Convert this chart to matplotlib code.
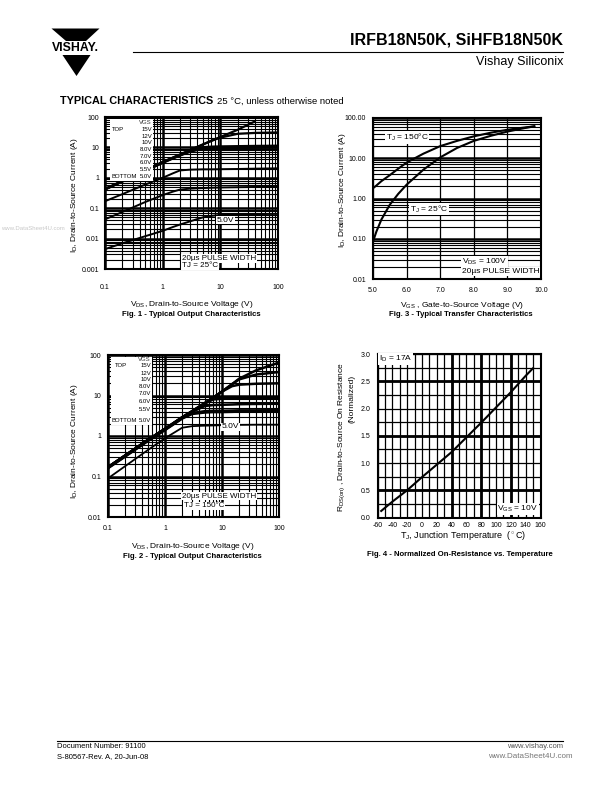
import numpy as np
import matplotlib
matplotlib.use('Agg')
import matplotlib.pyplot as plt
from matplotlib.patches import Polygon, Rectangle
from matplotlib.lines import Line2D
from matplotlib.ticker import LogLocator, NullFormatter, MultipleLocator

plt.rcParams['font.family'] = ['Liberation Sans', 'DejaVu Sans']
plt.rcParams['mathtext.fontset'] = 'custom'
plt.rcParams['mathtext.rm'] = 'Liberation Sans'
plt.rcParams['mathtext.it'] = 'Liberation Sans:italic'
plt.rcParams['mathtext.bf'] = 'Liberation Sans:bold'

# ---------------- data ----------------
vgs_labels = ['15V', '12V', '10V', '8.0V', '7.0V', '6.0V', '5.5V', '5.0V']

# Fig. 1 : Tj = 25 C
fig1_vds = [0.1, 0.2, 0.5, 1, 1.5, 2, 3, 5, 7, 10, 20, 40, 100]
fig1_15v = [0.43, 0.78, 1.75, 3.3, 4.6, 5.8, 8.2, 12.5, 16.5, 22, 38, 72, np.nan]
fig1_12v = [0.43, 0.78, 1.75, 3.3, 4.6, 5.8, 8.2, 12.5, 16.5, 21, 28, 30, 31]
fig1_10v = [0.42, 0.77, 1.72, 3.2, 4.5, 5.6, 7.8, 10.2, 10.6, 10.8, 11, 11.2, 11.4]
fig1_8v = [0.42, 0.76, 1.7, 3.15, 4.4, 5.5, 7.5, 9.6, 9.9, 10, 10.1, 10.2, 10.3]
fig1_7v = [0.41, 0.75, 1.68, 3.1, 4.3, 5.4, 7.2, 9.1, 9.4, 9.5, 9.6, 9.7, 9.8]
fig1_6v = [0.17, 0.29, 0.6, 1.0, 1.4, 1.75, 1.85, 1.9, 1.9, 1.92, 1.95, 2.0, 2.05]
fig1_5p5v = [0.043, 0.075, 0.16, 0.27, 0.35, 0.41, 0.44, 0.46, 0.47, 0.48, 0.49, 0.5, 0.52]
fig1_5v = [0.0045, 0.007, 0.012, 0.018, 0.024, 0.029, 0.037, 0.05, 0.056, 0.06, 0.062, 0.064, 0.065]

# Fig. 2 : Tj = 150 C
fig2_vds = [0.1, 0.2, 0.5, 1, 2, 3, 5, 7, 10, 15, 20, 40, 100]
fig2_15v = [0.17, 0.33, 0.8, 1.5, 2.9, 4.1, 6.5, 8.8, 12.5, 19, 26, 42, 65]
fig2_12v = [0.17, 0.33, 0.8, 1.5, 2.9, 4.1, 6.5, 8.8, 12.5, 19, 25, 33, 38]
fig2_10v = [0.17, 0.33, 0.8, 1.5, 2.9, 4.1, 6.5, 8.8, 12.5, 17, 18.5, 19.5, 20]
fig2_8v = [0.17, 0.33, 0.79, 1.48, 2.85, 4.0, 6.3, 8.0, 8.3, 8.4, 8.5, 8.6, 8.7]
fig2_7v = [0.165, 0.32, 0.78, 1.46, 2.8, 3.95, 5.5, 5.8, 5.9, 6.0, 6.1, 6.2, 6.3]
fig2_6v = [0.165, 0.32, 0.77, 1.44, 2.75, 3.7, 4.1, 4.2, 4.2, 4.25, 4.3, 4.3, 4.35]
fig2_5p5v = [0.16, 0.31, 0.75, 1.4, 2.7, 3.5, 3.8, 3.9, 3.9, 3.95, 4.0, 4.0, 4.05]
fig2_5v = [0.09, 0.18, 0.45, 0.88, 1.6, 1.75, 1.8, 1.82, 1.85, 1.87, 1.88, 1.9, 1.9]

# Fig. 3 : transfer characteristics
fig3_vgs = [5.0, 5.1, 5.25, 5.5, 5.75, 6.0, 6.5, 7.0, 7.5, 8.0, 8.5, 9.0, 9.5, 9.8]
fig3_id_150c = [1.8, 2.1, 2.7, 3.8, 5.5, 7.8, 13, 20, 27, 35, 43, 51, 58, 62]
fig3_id_25c = [0.085, 0.15, 0.3, 0.7, 1.3, 2.2, 5.2, 10.5, 18, 27, 36, 46, 56, 62]

# Fig. 4 : normalized on-resistance
fig4_tj = [-55, -40, -20, 0, 20, 40, 60, 80, 100, 120, 140, 150]
fig4_rds = [0.12, 0.29, 0.50, 0.74, 0.97, 1.20, 1.47, 1.74, 2.02, 2.30, 2.60, 2.74]

# tick labels
fig1_yticks = [0.001, 0.01, 0.1, 1, 10, 100]
fig1_yticklabels = ['0.001', '0.01', '0.1', '1', '10', '100']
fig12_xticks = [0.1, 1, 10, 100]
fig12_xticklabels = ['0.1', '1', '10', '100']
fig2_yticks = [0.01, 0.1, 1, 10, 100]
fig2_yticklabels = ['0.01', '0.1', '1', '10', '100']
fig3_yticks = [0.01, 0.1, 1, 10, 100]
fig3_yticklabels = ['0.01', '0.10', '1.00', '10.00', '100.00']
fig3_xticks = [5.0, 6.0, 7.0, 8.0, 9.0, 10.0]
fig3_xticklabels = ['5.0', '6.0', '7.0', '8.0', '9.0', '10.0']
fig4_xticks = [-60, -40, -20, 0, 20, 40, 60, 80, 100, 120, 140, 160]
fig4_yticks = [0.0, 0.5, 1.0, 1.5, 2.0, 2.5, 3.0]

# ---------------- layout helpers ----------------
W, H = 612, 792
fig = plt.figure(figsize=(6.12, 7.92), dpi=100)


def ax_at(x0, y0, x1, y1):
    return fig.add_axes([x0 / W, 1 - y1 / H, (x1 - x0) / W, (y1 - y0) / H])


def ftext(x, y, s, **kw):
    kw.setdefault('va', 'center')
    return fig.text(x / W, 1 - y / H, s, **kw)


def P(pts):
    return [(x / W, 1 - y / H) for x, y in pts]


def frect(x0, y0, x1, y1, **kw):
    r = Rectangle((x0 / W, 1 - y1 / H), (x1 - x0) / W, (y1 - y0) / H,
                  transform=fig.transFigure, **kw)
    fig.add_artist(r)
    return r


WB = dict(fc='white', ec='none', pad=0.4)
TICK_FS = 5
LAB_FS = 6
CAP_FS = 5.6


def style_frame(ax):
    for s in ax.spines.values():
        s.set_linewidth(1.5)
        s.set_color('black')
    ax.tick_params(which='both', length=0, labelsize=TICK_FS)
    ax.set_axisbelow(True)


def loglog_grid(ax):
    ax.set_xscale('log')
    ax.set_yscale('log')
    for axis in (ax.xaxis, ax.yaxis):
        axis.set_minor_locator(LogLocator(base=10, subs=np.arange(2, 10), numticks=30))
        axis.set_minor_formatter(NullFormatter())
    ax.grid(which='major', color='black', lw=1.8)
    ax.grid(which='minor', color='black', lw=0.8)


# ---------------- header ----------------
fig.add_artist(Polygon(P([(51.5, 28.5), (99.5, 28.5), (86, 41), (66, 41)]),
                       closed=True, fc='black', ec='none', transform=fig.transFigure))
fig.add_artist(Polygon(P([(62.5, 55), (90.5, 55), (76.5, 76)]),
                       closed=True, fc='black', ec='none', transform=fig.transFigure))
ftext(75.5, 48, 'VISHAY.', ha='center', fontsize=8.8, fontweight='bold')
ftext(563, 40, 'IRFB18N50K, SiHFB18N50K', ha='right', fontsize=11.5, fontweight='bold')
fig.add_artist(Line2D([133 / W, 563 / W], [1 - 51.5 / H, 1 - 51.5 / H], color='black',
                      lw=0.8, transform=fig.transFigure))
ftext(563, 61.5, 'Vishay Siliconix', ha='right', fontsize=9)
ftext(60, 101, 'TYPICAL CHARACTERISTICS', ha='left', fontsize=7.8, fontweight='bold')
ftext(217, 101, '25 °C, unless otherwise noted', ha='left', fontsize=6.8)

# watermark on left edge
ftext(1, 229, 'www.DataSheet4U.com', ha='left', fontsize=4.3, color='#c8c8c8')

# ---------------- Fig. 1 ----------------
ax1 = ax_at(105, 117, 278, 269)
loglog_grid(ax1)
style_frame(ax1)
for cur, lw in zip([fig1_15v, fig1_12v, fig1_10v, fig1_8v, fig1_7v, fig1_6v, fig1_5p5v, fig1_5v],
                   [1.6, 1.6, 1.6, 1.6, 1.6, 1.4, 1.4, 1.4]):
    ax1.plot(fig1_vds, cur, color='black', lw=lw, solid_capstyle='butt')
ax1.set_xlim(0.1, 100)
ax1.set_ylim(0.001, 100)
ax1.set_xticks(fig12_xticks, fig12_xticklabels)
ax1.set_yticks(fig1_yticks, fig1_yticklabels)
ax1.tick_params(axis='x', pad=11)
ax1.tick_params(axis='y', pad=4)

frect(110, 119, 153, 181, fc='white', ec='none', zorder=2)
leg1_y = [129.5, 136, 142, 149.5, 156.5, 163, 169.5, 176.5]
ftext(152, 122.5, 'VGS', ha='right', fontsize=4.3, color='#333333')
for lab, yy in zip(vgs_labels, leg1_y):
    ftext(152, yy, lab, ha='right', fontsize=4.3)
ftext(111.5, leg1_y[0], 'TOP', ha='left', fontsize=4.3)
ftext(111, leg1_y[-1], 'BOTTOM', ha='left', fontsize=4.3)
ftext(217, 220, '5.0V', ha='left', fontsize=6, bbox=WB)
ftext(182, 258.5, '20µs PULSE WIDTH', ha='left', fontsize=5.8, bbox=WB)
ftext(182, 265.5, 'TJ = 25°C', ha='left', fontsize=5.8, bbox=WB)

ftext(191.5, 304, r'V$_\mathregular{DS}$, Drain-to-Source Voltage (V)', ha='center', fontsize=LAB_FS)
ftext(191.5, 315, 'Fig. 1 - Typical Output Characteristics', ha='center', fontsize=CAP_FS,
      fontweight='bold')
ftext(75, 195, r'I$_\mathregular{D}$, Drain-to-Source Current (A)', ha='center', rotation=90,
      fontsize=LAB_FS)

# ---------------- Fig. 3 ----------------
ax3 = ax_at(373, 118, 541, 279)
ax3.set_yscale('log')
ax3.yaxis.set_minor_locator(LogLocator(base=10, subs=np.arange(2, 10), numticks=30))
ax3.yaxis.set_minor_formatter(NullFormatter())
ax3.grid(axis='y', which='major', color='black', lw=1.8)
ax3.grid(axis='y', which='minor', color='black', lw=0.8)
ax3.grid(axis='x', which='major', color='black', lw=0.9)
style_frame(ax3)
ax3.plot(fig3_vgs, fig3_id_150c, color='black', lw=1.5)
ax3.plot(fig3_vgs, fig3_id_25c, color='black', lw=1.5)
ax3.set_xlim(5.0, 10.0)
ax3.set_ylim(0.01, 100)
ax3.set_xticks(fig3_xticks, fig3_xticklabels)
ax3.set_yticks(fig3_yticks, fig3_yticklabels)
ax3.tick_params(axis='x', pad=6)
ax3.tick_params(axis='y', pad=5)

ftext(386, 137.5, r'T$_\mathregular{J}$ = 150°C', ha='left', fontsize=6, bbox=WB)
ftext(410, 209, r'T$_\mathregular{J}$ = 25°C', ha='left', fontsize=6, bbox=WB)
ftext(462, 262, r'V$_\mathregular{DS}$ = 100V', ha='left', fontsize=6, bbox=WB)
ftext(462, 271.5, '20µs PULSE WIDTH', ha='left', fontsize=6, bbox=WB)

ftext(462, 305, r'V$_\mathregular{GS}$ , Gate-to-Source Voltage (V)', ha='center', fontsize=LAB_FS)
ftext(461, 315, 'Fig. 3 - Typical Transfer Characteristics', ha='center', fontsize=CAP_FS,
      fontweight='bold')
ftext(342, 190, r'I$_\mathregular{D}$, Drain-to-Source Current (A)', ha='center', rotation=90,
      fontsize=LAB_FS)

# ---------------- Fig. 2 ----------------
ax2 = ax_at(108, 355, 279, 517)
loglog_grid(ax2)
style_frame(ax2)
for cur, lw in zip([fig2_15v, fig2_12v, fig2_10v, fig2_8v, fig2_7v, fig2_6v, fig2_5p5v, fig2_5v],
                   [1.8, 1.8, 1.8, 1.8, 1.8, 1.8, 1.8, 1.3]):
    ax2.plot(fig2_vds, cur, color='black', lw=lw)
ax2.set_xlim(0.1, 100)
ax2.set_ylim(0.01, 100)
ax2.set_xticks(fig12_xticks, fig12_xticklabels)
ax2.set_yticks(fig2_yticks, fig2_yticklabels)
ax2.tick_params(axis='x', pad=6)
ax2.tick_params(axis='y', pad=5)

frect(111, 357, 152, 425, fc='white', ec='none', zorder=2)
leg2_y = [365.5, 373, 379.5, 386.5, 393.5, 401.5, 410, 420.5]
ftext(151, 359.5, 'VGS', ha='right', fontsize=4.3, color='#333333')
for lab, yy in zip(vgs_labels, leg2_y):
    ftext(151, yy, lab, ha='right', fontsize=4.3)
ftext(114.5, leg2_y[0], 'TOP', ha='left', fontsize=4.3)
ftext(112, leg2_y[-1], 'BOTTOM', ha='left', fontsize=4.3)
ftext(222, 427, '5.0V', ha='left', fontsize=6, bbox=WB)
ftext(182, 496, '20µs PULSE WIDTH', ha='left', fontsize=5.8, bbox=WB)
ftext(184, 506, 'TJ = 150°C', ha='left', fontsize=5.8, bbox=WB)

ftext(193, 546.5, r'V$_\mathregular{DS}$, Drain-to-Source Voltage (V)', ha='center', fontsize=LAB_FS)
ftext(192, 556.5, 'Fig. 2 - Typical Output Characteristics', ha='center', fontsize=CAP_FS,
      fontweight='bold')
ftext(75, 441, r'I$_\mathregular{D}$, Drain-to-Source Current (A)', ha='center', rotation=90,
      fontsize=LAB_FS)

# ---------------- Fig. 4 ----------------
ax4 = ax_at(377.5, 354, 540.5, 517.5)
ax4.xaxis.set_minor_locator(MultipleLocator(10))
ax4.yaxis.set_minor_locator(MultipleLocator(0.25))
ax4.grid(which='both', color='black', lw=0.9)
for xv in (40, 80, 120):
    ax4.axvline(xv, color='black', lw=2.0, zorder=0.5)
for yv in (0.5, 1.5, 2.5):
    ax4.axhline(yv, color='black', lw=2.0, zorder=0.5)
style_frame(ax4)
ax4.plot(fig4_tj, fig4_rds, color='black', lw=1.5)
ax4.set_xlim(-60, 160)
ax4.set_ylim(0, 3.0)
ax4.set_xticks(fig4_xticks, [str(v) for v in fig4_xticks])
ax4.set_yticks(fig4_yticks, ['%.1f' % v for v in fig4_yticks])
ax4.tick_params(axis='x', pad=3)
ax4.tick_params(axis='y', pad=5)

ftext(379, 359, r'I$_\mathregular{D}$ = 17A', ha='left', fontsize=6, bbox=WB)
ftext(538, 509, r'V$_\mathregular{GS}$ = 10V', ha='right', fontsize=6, bbox=WB)

ftext(463, 535, r'T$_\mathregular{J}$, Junction Temperature  ($^\circ$C)', ha='center', fontsize=LAB_FS + 0.5)
ftext(460, 554, 'Fig. 4 - Normalized On-Resistance vs. Temperature', ha='center', fontsize=CAP_FS,
      fontweight='bold')
ftext(342, 437, r'R$_\mathregular{DS(on)}$ , Drain-to-Source On Resistance', ha='center',
      rotation=90, fontsize=LAB_FS)
ftext(352.5, 399, '(Normalized)', ha='center', rotation=90, fontsize=LAB_FS)

# ---------------- footer ----------------
fig.add_artist(Line2D([57 / W, 563 / W], [1 - 740.5 / H, 1 - 740.5 / H], color='black',
                      lw=0.8, transform=fig.transFigure))
ftext(57, 747, 'Document Number: 91100', ha='left', fontsize=5.5)
ftext(57, 757, 'S-80567-Rev. A, 20-Jun-08', ha='left', fontsize=5.5)
ftext(563, 747, 'www.vishay.com', ha='right', fontsize=5.5, color='#555555')
ftext(573, 757, 'www.DataSheet4U.com', ha='right', fontsize=5.8, color='#777777')

fig.savefig('out.png', dpi=100)
